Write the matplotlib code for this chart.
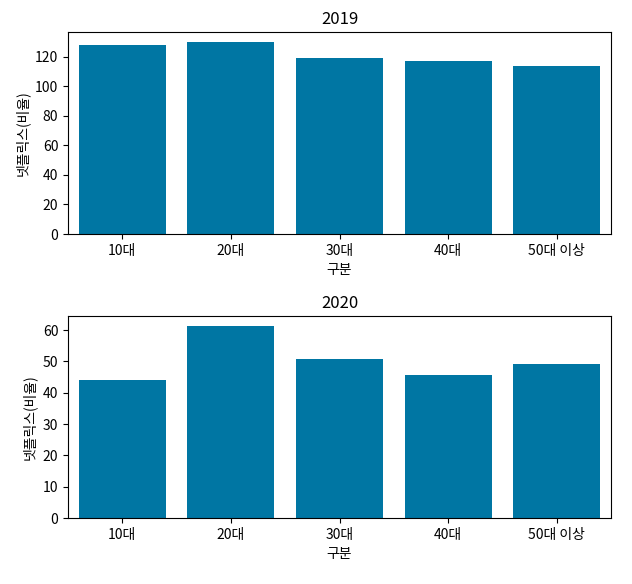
import matplotlib
matplotlib.use("Agg")
import matplotlib.pyplot as plt

plt.rcParams['font.family'] = ['Noto Sans CJK KR', 'DejaVu Sans']
plt.rcParams['axes.unicode_minus'] = False

categories = ['10대', '20대', '30대', '40대', '50대 이상']
values_2019 = [128.1, 130.1, 118.7, 117.3, 113.3]
values_2020 = [43.9, 61.4, 50.6, 45.5, 49.0]
titles = ['2019', '2020']
bar_color = '#0076A3'

fig = plt.figure(figsize=(6.32, 5.84), dpi=100)
ax1 = fig.add_axes([0.1076, 0.5993, 0.8592, 0.3459])
ax2 = fig.add_axes([0.1076, 0.1130, 0.8592, 0.3459])
for ax, vals, title in zip([ax1, ax2], [values_2019, values_2020], titles):
    x = range(len(categories))
    ax.bar(x, vals, width=0.8, color=bar_color)
    ax.set_xticks(list(x))
    ax.set_xticklabels(categories)
    ax.set_xlim(-0.5, len(categories) - 0.5)
    ax.set_title(title, fontsize=12)
    ax.set_xlabel('구분')
    ax.set_ylabel('넷플릭스(비율)')

fig.savefig('out.png', dpi=100)
